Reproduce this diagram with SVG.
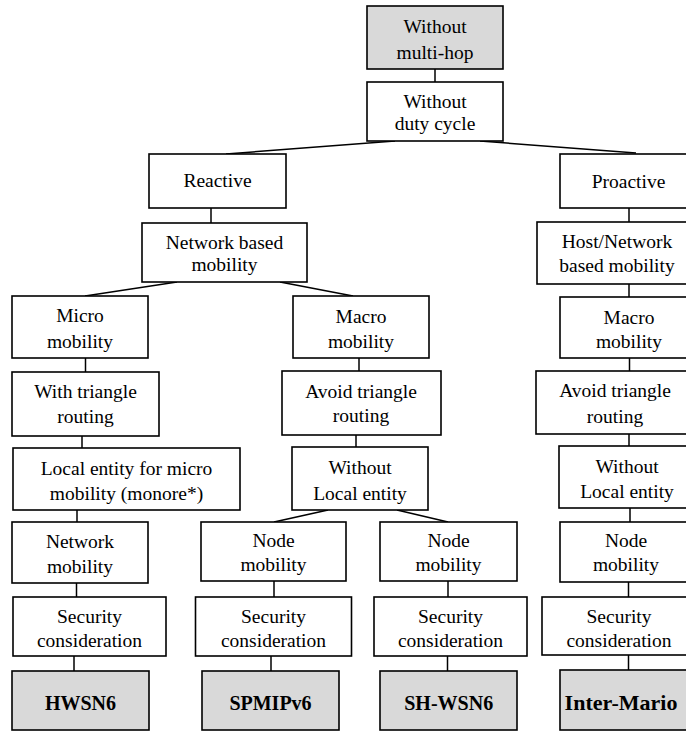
<svg xmlns="http://www.w3.org/2000/svg" width="686" height="731" viewBox="0 0 686 731">
<style>
.box{fill:#fff;stroke:#000;stroke-width:1.6}
.gray{fill:#d9d9d9}
.t{font-family:"Liberation Serif","Times New Roman",serif;font-size:19.5px;text-anchor:middle;fill:#000}
.b{font-weight:bold;font-size:20px}
.c{stroke:#000;stroke-width:1.5;fill:none}
</style>
<rect width="686" height="731" fill="#fff"/>
<g id="connectors" class="c">
<line x1="435" y1="69" x2="435" y2="82"/>
<line x1="395" y1="141" x2="226" y2="154"/>
<line x1="480" y1="141" x2="636" y2="153"/>
<line x1="211" y1="208" x2="211" y2="223"/>
<line x1="629" y1="208" x2="629" y2="222"/>
<line x1="177" y1="282" x2="85" y2="296"/>
<line x1="280" y1="282" x2="353" y2="296"/>
<line x1="629" y1="284" x2="629" y2="297"/>
<line x1="85.5" y1="358" x2="85.5" y2="372"/>
<line x1="359" y1="358" x2="359" y2="371"/>
<line x1="629.5" y1="358" x2="629.5" y2="371"/>
<line x1="82" y1="436" x2="82" y2="448"/>
<line x1="356" y1="435" x2="356" y2="447"/>
<line x1="629" y1="434" x2="629" y2="446"/>
<line x1="77" y1="510" x2="77" y2="522"/>
<line x1="328" y1="510" x2="274" y2="522"/>
<line x1="397" y1="510" x2="448" y2="522"/>
<line x1="630" y1="508" x2="630" y2="522"/>
<line x1="76.5" y1="583" x2="76.5" y2="597"/>
<line x1="274" y1="581" x2="274" y2="597"/>
<line x1="448" y1="581" x2="448" y2="597"/>
<line x1="628.5" y1="582" x2="628.5" y2="597"/>
<line x1="74" y1="656" x2="74" y2="671"/>
<line x1="271" y1="656" x2="271" y2="671"/>
<line x1="447.5" y1="656" x2="447.5" y2="671"/>
<line x1="628.5" y1="655" x2="628.5" y2="670"/>
</g>
<g id="n-without-multihop"><rect class="box gray" x="367" y="6" width="136" height="63"/><text class="t" x="435" y="33">Without</text><text class="t" x="435" y="59">multi-hop</text></g>
<g id="n-without-duty"><rect class="box" x="367" y="82" width="136" height="59"/><text class="t" x="435" y="108">Without</text><text class="t" x="435" y="130">duty cycle</text></g>
<g id="n-reactive"><rect class="box" x="149" y="154" width="137" height="54"/><text class="t" x="217.5" y="187">Reactive</text></g>
<g id="n-proactive"><rect class="box" x="560" y="154" width="140" height="54"/><text class="t" x="628.5" y="188">Proactive</text></g>
<g id="n-network-based"><rect class="box" x="142" y="223" width="165" height="59"/><text class="t" x="224.5" y="249">Network based</text><text class="t" x="224.5" y="271">mobility</text></g>
<g id="n-host-network"><rect class="box" x="537" y="222" width="163" height="62"/><text class="t" x="617" y="248">Host/Network</text><text class="t" x="617" y="272">based mobility</text></g>
<g id="n-micro"><rect class="box" x="12" y="296" width="136" height="62"/><text class="t" x="80" y="322">Micro</text><text class="t" x="80" y="348">mobility</text></g>
<g id="n-macro-mid"><rect class="box" x="293" y="296" width="136" height="62"/><text class="t" x="361" y="322.5">Macro</text><text class="t" x="361" y="348">mobility</text></g>
<g id="n-macro-right"><rect class="box" x="560" y="297" width="140" height="61"/><text class="t" x="629" y="324">Macro</text><text class="t" x="629" y="348">mobility</text></g>
<g id="n-with-triangle"><rect class="box" x="12" y="372" width="147" height="64"/><text class="t" x="85.5" y="398">With triangle</text><text class="t" x="85.5" y="423">routing</text></g>
<g id="n-avoid-mid"><rect class="box" x="282" y="371" width="159" height="64"/><text class="t" x="361" y="398">Avoid triangle</text><text class="t" x="361" y="422">routing</text></g>
<g id="n-avoid-right"><rect class="box" x="536" y="371" width="164" height="63"/><text class="t" x="615" y="397">Avoid triangle</text><text class="t" x="615" y="422.5">routing</text></g>
<g id="n-local-entity"><rect class="box" x="13" y="448" width="227" height="62"/><text class="t" x="126.5" y="475">Local entity for micro</text><text class="t" x="126.5" y="500">mobility (monore*)</text></g>
<g id="n-without-local-mid"><rect class="box" x="292" y="447" width="136" height="63"/><text class="t" x="360" y="474">Without</text><text class="t" x="360" y="500">Local entity</text></g>
<g id="n-without-local-right"><rect class="box" x="559" y="446" width="141" height="62"/><text class="t" x="627" y="473">Without</text><text class="t" x="627" y="498">Local entity</text></g>
<g id="n-network-mobility"><rect class="box" x="12" y="522" width="136" height="61"/><text class="t" x="80" y="548">Network</text><text class="t" x="80" y="573">mobility</text></g>
<g id="n-node-1"><rect class="box" x="201" y="522" width="145" height="59"/><text class="t" x="273.5" y="547">Node</text><text class="t" x="273.5" y="571">mobility</text></g>
<g id="n-node-2"><rect class="box" x="380" y="522" width="137" height="59"/><text class="t" x="448.5" y="547">Node</text><text class="t" x="448.5" y="571">mobility</text></g>
<g id="n-node-3"><rect class="box" x="560" y="522" width="140" height="60"/><text class="t" x="626" y="547">Node</text><text class="t" x="626" y="571">mobility</text></g>
<g id="n-sec-1"><rect class="box" x="13" y="597" width="153" height="59"/><text class="t" x="89.5" y="622.5">Security</text><text class="t" x="89.5" y="646.5">consideration</text></g>
<g id="n-sec-2"><rect class="box" x="195.5" y="597" width="156" height="59"/><text class="t" x="273.5" y="622.5">Security</text><text class="t" x="273.5" y="646.5">consideration</text></g>
<g id="n-sec-3"><rect class="box" x="374" y="597" width="153" height="59"/><text class="t" x="450.5" y="622.5">Security</text><text class="t" x="450.5" y="646.5">consideration</text></g>
<g id="n-sec-4"><rect class="box" x="542" y="597" width="158" height="58"/><text class="t" x="619" y="622.5">Security</text><text class="t" x="619" y="646.5">consideration</text></g>
<g id="n-hwsn6"><rect class="box gray" x="12" y="671" width="137" height="59"/><text class="t b" x="80.5" y="710">HWSN6</text></g>
<g id="n-spmipv6"><rect class="box gray" x="202" y="671" width="137" height="59"/><text class="t b" x="270.5" y="710">SPMIPv6</text></g>
<g id="n-shwsn6"><rect class="box gray" x="380" y="671" width="137" height="59"/><text class="t b" x="448.7" y="710">SH-WSN6</text></g>
<g id="n-intermario"><rect class="box gray" x="560" y="670" width="140" height="60"/><text class="t b" x="621" y="710" style="font-size:22px">Inter-Mario</text></g>
</svg>
